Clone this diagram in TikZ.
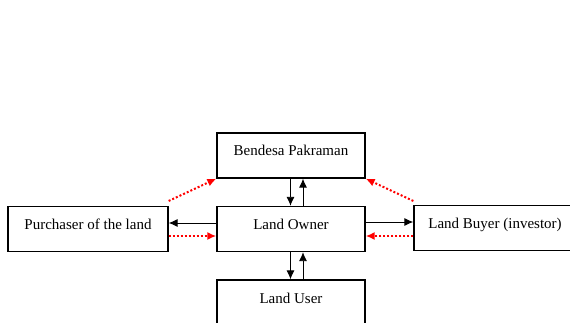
\documentclass[tikz,border=0pt]{standalone}
\usepackage{fontspec}
\setmainfont{Liberation Serif}
\usetikzlibrary{arrows.meta}

\tikzset{
	party/.style={draw,line width=1.3pt,inner sep=0pt,minimum height=45pt,text height=23pt,text depth=22pt,font=\fontsize{15}{17}\selectfont},
	flow/.style={-{Latex[length=9pt,width=8pt]},line width=0.9pt},
	money/.style={-{Latex[length=9pt,width=8pt]},red,line width=2pt,dotted}
}

\begin{document}
\begin{tikzpicture}[x=1pt,y=-1pt]
		\clip (0,0) rectangle (570,323);
		
		\node[party,minimum width=148pt] (bendesa) at (291,155.5) {Bendesa Pakraman};
		\node[party,minimum width=148pt] (owner) at (291,229) {Land Owner};
		\node[party,minimum width=148pt] (user) at (291,302.5) {Land User};
		\node[party,minimum width=160pt] (purchaser) at (88,229) {Purchaser of the land};
		\node[party,minimum width=162pt] (buyer) at (495,228) {Land Buyer (investor)};
		
		% owner and the adat village
		\draw[flow] ([xshift=-0.5pt]bendesa.south) -- ([xshift=-0.5pt]owner.north);
		\draw[flow] ([xshift=12pt]owner.north) -- ([xshift=12pt]bendesa.south);
		
		% owner and user
		\draw[flow] ([xshift=-0.5pt]owner.south) -- ([xshift=-0.5pt]user.north);
		\draw[flow] ([xshift=12pt]user.north) -- ([xshift=12pt]owner.south);
		
		% left and right
		\draw[flow] ([yshift=6pt]owner.west) -- ([yshift=6pt]purchaser.east);
		\draw[flow] ([yshift=7pt]owner.east) -- ([yshift=6pt]buyer.west);
		
		\draw[money] ([yshift=-7pt]purchaser.east) -- ([yshift=-7pt]owner.west);
		\draw[money] ([yshift=-8pt]buyer.west) -- ([yshift=-7pt]owner.east);
		\draw[money] ([yshift=28pt]purchaser.east) -- (bendesa.south west);
		\draw[money] ([yshift=27pt]buyer.west) -- (bendesa.south east);
		
	\end{tikzpicture}
\end{document}
